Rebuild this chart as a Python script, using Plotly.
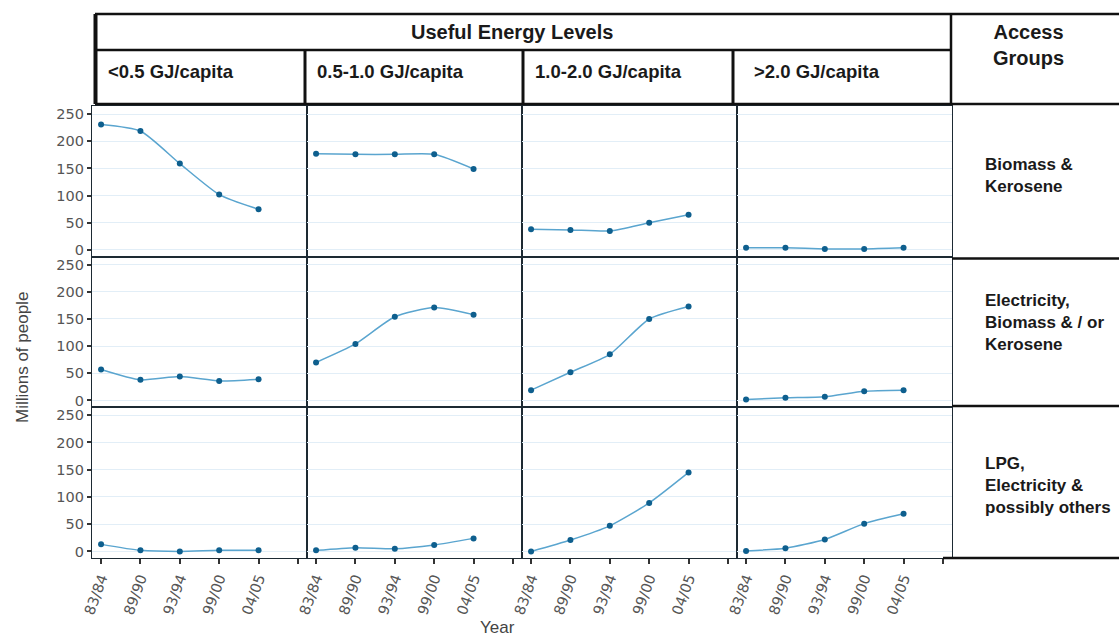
import plotly.graph_objects as go

# ---------------- data ----------------
years = ["83/84", "89/90", "93/94", "99/00", "04/05"]
energy_levels = ["<0.5 GJ/capita", "0.5-1.0 GJ/capita", "1.0-2.0 GJ/capita", ">2.0 GJ/capita"]
access_groups = ["Biomass &<br>Kerosene",
                 "Electricity,<br>Biomass & / or<br>Kerosene",
                 "LPG,<br>Electricity &<br>possibly others"]
y_ticks = [0, 50, 100, 150, 200, 250]

# values (millions of people) per access group, one list per energy level
biomass_kerosene = [
    [231, 219, 159, 102, 75],
    [177, 176, 176, 176, 149],
    [38, 37, 35, 50, 65],
    [4, 4, 2, 2, 4],
]
electricity_mix = [
    [57, 38, 44, 36, 39],
    [70, 104, 154, 171, 158],
    [19, 52, 85, 150, 173],
    [2, 5, 7, 17, 19],
]
lpg_mix = [
    [13, 2, 0, 2, 2],
    [2, 7, 5, 12, 24],
    [0, 21, 47, 89, 145],
    [1, 6, 22, 51, 69],
]
rows_data = [biomass_kerosene, electricity_mix, lpg_mix]

# ---------------- layout helpers ----------------
W, H = 1119, 636
def px(x):
    return x / W
def py(y):
    return 1 - y / H

col_left = 92
col_w = 215
row_edges = [106, 256.5, 407, 558]

LINE_C = "#5aa5cf"
MARK_C = "#0e5f8e"
BORDER_C = "#1d2a33"
GRID_C = "#e2eef7"
TICK_FONT = dict(family="DejaVu Sans", size=14.5, color="#555555")

fig = go.Figure()
layout = dict(
    width=W, height=H,
    margin=dict(l=0, r=0, t=0, b=0, autoexpand=False),
    paper_bgcolor="white", plot_bgcolor="white",
    showlegend=False,
)

categories = years + [" "]
idx = 0
for r in range(3):
    for c in range(4):
        idx += 1
        xa = "xaxis" if idx == 1 else f"xaxis{idx}"
        ya = "yaxis" if idx == 1 else f"yaxis{idx}"
        xr = "x" if idx == 1 else f"x{idx}"
        yr = "y" if idx == 1 else f"y{idx}"
        fig.add_trace(go.Scatter(
            x=years, y=rows_data[r][c], xaxis=xr, yaxis=yr,
            mode="lines+markers",
            line=dict(color=LINE_C, width=1.5, shape="spline", smoothing=0.6),
            marker=dict(color=MARK_C, size=6, symbol="circle"),
            hoverinfo="x+y",
        ))
        bottom = (r == 2)
        left = (c == 0)
        layout[xa] = dict(
            domain=[px(col_left + col_w * c), px(col_left + col_w * (c + 1))],
            anchor=yr, type="category", automargin=False,
            categoryorder="array", categoryarray=categories,
            tickmode="array", tickvals=categories, ticktext=years + [""],
            range=[-0.23, 5.23],
            showgrid=False, zeroline=False,
            showline=True, mirror=True, linecolor=BORDER_C, linewidth=1.2,
            ticks="outside" if bottom else "", ticklen=5, tickwidth=1.5, tickcolor="#333333",
            showticklabels=bottom, tickangle=-70, tickfont=TICK_FONT,
        )
        layout[ya] = dict(
            domain=[py(row_edges[r + 1]), py(row_edges[r])],
            anchor=xr, range=[-12, 265], automargin=False,
            tickmode="array", tickvals=y_ticks,
            showgrid=True, gridcolor=GRID_C, gridwidth=1, zeroline=False,
            showline=True, mirror=True, linecolor=BORDER_C, linewidth=1.2,
            ticks="outside" if left else "", ticklen=4, tickwidth=1.5, tickcolor="#333333",
            showticklabels=left, tickfont=TICK_FONT,
        )

fig.update_layout(**layout)

# ---------------- header table lines ----------------
shapes = []
def hline(x0, x1, y, w=2):
    shapes.append(dict(type="line", xref="paper", yref="paper",
                       x0=px(x0), x1=px(x1), y0=py(y), y1=py(y),
                       line=dict(color="#111111", width=w)))
def vline(x, y0, y1, w=2):
    shapes.append(dict(type="line", xref="paper", yref="paper",
                       x0=px(x), x1=px(x), y0=py(y0), y1=py(y1),
                       line=dict(color="#111111", width=w)))

hline(95, 1119, 14, 2.5)
hline(95, 951, 50, 2.5)
hline(95, 1119, 104, 2.5)
vline(95.5, 14, 104, 4)
vline(305, 50, 104, 3)
vline(523, 50, 104, 3)
vline(733, 50, 104, 3)
vline(951, 14, 104, 2.5)
hline(952, 1119, 258.5, 2.5)
hline(952, 1119, 406, 2.5)
hline(943, 1119, 558, 2.5)
fig.update_layout(shapes=shapes)

# ---------------- texts ----------------
ann = []
HEAD_FONT = dict(family="Liberation Sans", size=18.5, color="#1a1a1a")
ann.append(dict(text="<b>Useful Energy Levels</b>", x=px(512), y=py(32),
                xref="paper", yref="paper", showarrow=False,
                xanchor="center", yanchor="middle",
                font=dict(family="Liberation Sans", size=20, color="#1a1a1a")))
sub_x = [106, 315, 533, 752]
for lbl, xx in zip(energy_levels, sub_x):
    ann.append(dict(text=f"<b>{lbl}</b>", x=px(xx), y=py(71),
                    xref="paper", yref="paper", showarrow=False,
                    xanchor="left", yanchor="middle", font=HEAD_FONT))
ann.append(dict(text="<b>Access<br>Groups</b>", x=px(1028), y=py(45),
                xref="paper", yref="paper", showarrow=False,
                xanchor="center", yanchor="middle",
                font=dict(family="Liberation Sans", size=20, color="#1a1a1a")))
row_centers = [176, 322, 485]
for lbl, yy in zip(access_groups, row_centers):
    ann.append(dict(text=f"<b>{lbl}</b>", x=px(983), y=py(yy),
                    xref="paper", yref="paper", showarrow=False,
                    xanchor="left", yanchor="middle", align="left",
                    font=dict(family="Liberation Sans", size=17, color="#1a1a1a")))
ann.append(dict(text="Millions of people", x=px(22), y=py(358),
                xref="paper", yref="paper", showarrow=False, textangle=-90,
                xanchor="center", yanchor="middle",
                font=dict(family="Liberation Sans", size=17, color="#444444")))
ann.append(dict(text="Year", x=px(497), y=py(627),
                xref="paper", yref="paper", showarrow=False,
                xanchor="center", yanchor="middle",
                font=dict(family="Liberation Sans", size=17, color="#444444")))
fig.update_layout(annotations=ann)

fig.write_html("out.html", config={"displayModeBar": False})

# remove default page margins so the figure sits exactly in the window
with open("out.html", "r", encoding="utf-8") as f:
    html = f.read()
html = html.replace("<head>", "<head><style>html,body{margin:0;padding:0;overflow:hidden;}</style>", 1)
with open("out.html", "w", encoding="utf-8") as f:
    f.write(html)
